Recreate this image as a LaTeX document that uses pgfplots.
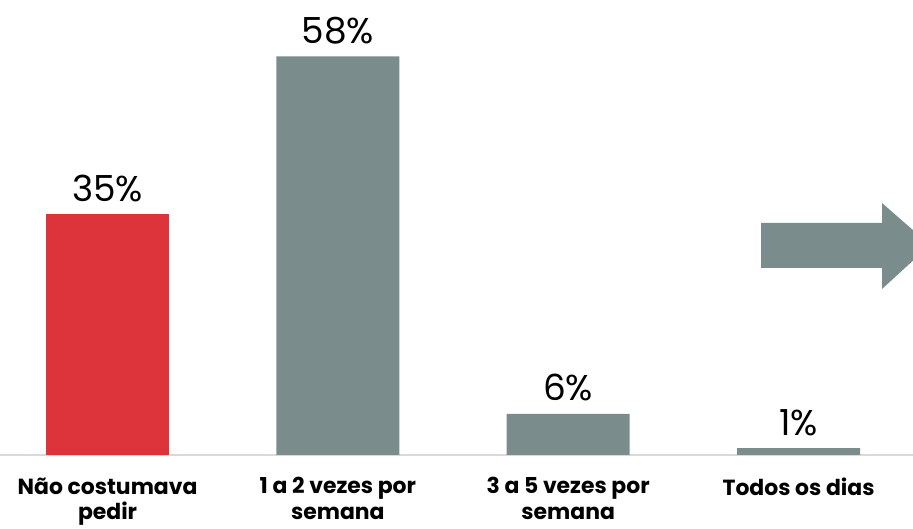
\documentclass[border=0pt]{standalone}
\usepackage{pgfplots}
\pgfplotsset{compat=1.18}
\usepackage{fontspec}
\setmainfont{Poppins}
\definecolor{barred}{HTML}{DD343C}
\definecolor{bargray}{HTML}{7B8C8C}
\definecolor{baseline}{HTML}{D9D9D9}
\begin{document}
\begin{tikzpicture}[x=1bp,y=1bp]
\begin{axis}[
  at={(0bp,74bp)}, anchor=south west,
  scale only axis, width=913bp, height=455bp,
  xmin=-0.467, xmax=3.497, ymin=0, ymax=66.2,
  axis x line*=bottom, axis y line=none,
  x axis line style={draw=baseline, line width=2bp, -},
  xtick={0,1,2,3},
  xticklabels={{Não costumava\\pedir},{1 a 2 vezes por\\semana},{3 a 5 vezes por\\semana},{Todos os dias}},
  xticklabel style={font=\fontsize{22}{26}\selectfont\bfseries, align=center, yshift=-19bp},
  major tick length=0pt,
  ytick=\empty,
  bar width=123bp,
  /pgf/number format/assume math mode=true,
  nodes near coords={\pgfmathprintnumber{\pgfplotspointmeta}\%},
  nodes near coords style={font=\fontsize{36}{42}\selectfont, text=black, anchor=south, yshift=9bp},
  clip=false,
]
\addplot[ybar, bar shift=0pt, fill=barred, draw=none] coordinates {(0,35)};
\addplot[ybar, bar shift=0pt, fill=bargray, draw=none] coordinates {(1,58) (2,6) (3,1)};
\end{axis}
\fill[bargray] (761bp,261bp) -- (882bp,261bp) -- (882bp,326bp) -- (930bp,284bp) -- (882bp,240bp) -- (882bp,306bp) -- (761bp,306bp) -- cycle;
\pgfresetboundingbox
\useasboundingbox (0,0) rectangle (913bp,529bp);
\end{tikzpicture}
\end{document}
